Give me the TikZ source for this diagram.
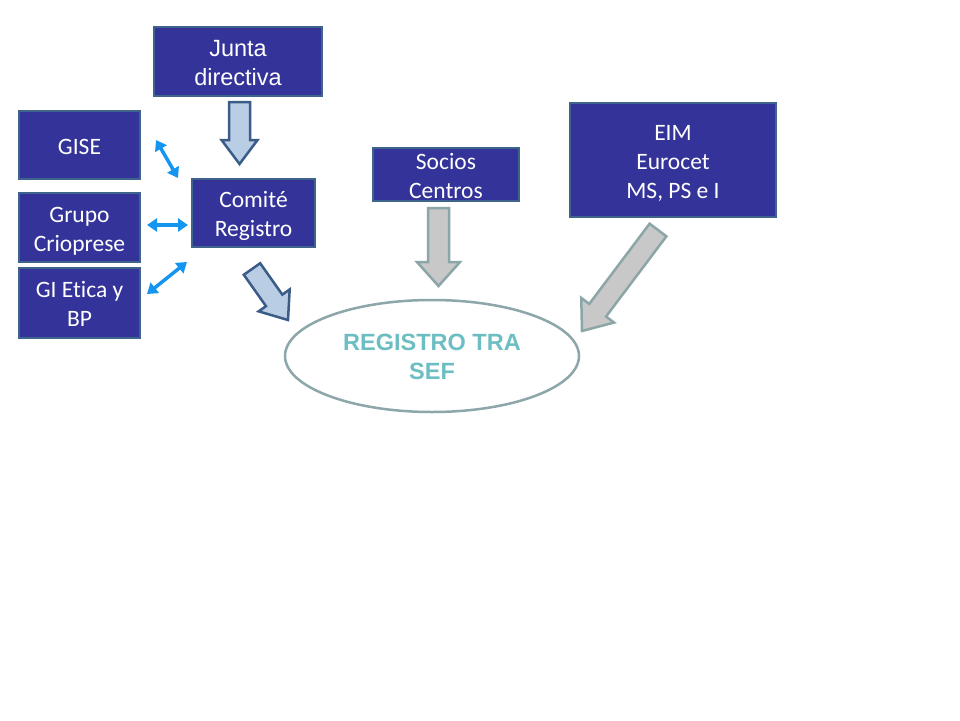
\documentclass[tikz,border=0pt]{standalone}
\usepackage{fontspec}
\setmainfont[Ligatures={NoCommon,NoRare,NoContextual}]{Carlito}
\newfontfamily\arialf{Liberation Sans}
\usetikzlibrary{shapes.geometric,calc,arrows.meta}
\definecolor{boxfill}{RGB}{51,51,153}
\definecolor{boxline}{RGB}{62,100,140}
\definecolor{bafill}{RGB}{185,205,229}
\definecolor{baline}{RGB}{58,92,134}
\definecolor{gafill}{RGB}{200,200,200}
\definecolor{galine}{RGB}{140,166,168}
\definecolor{ellline}{RGB}{140,166,170}
\definecolor{elltext}{RGB}{108,190,195}
\definecolor{dblue}{RGB}{20,150,240}
\newcommand\lst{\rule[-5.5pt]{0pt}{29pt}}
\newcommand\topst{\rule{0pt}{21pt}}
\newcommand\botst{\rule[-3pt]{0pt}{3pt}}
\tikzset{
  orgbox/.style={draw=boxline, line width=2.5pt, fill=boxfill, text=white,
    inner sep=0pt, align=center, font=\fontsize{23.5}{29}\selectfont},
  bluearrow/.style={draw=baline, line width=2.5pt, fill=bafill, line join=miter},
  grayarrow/.style={draw=galine, line width=2.5pt, fill=gafill, line join=miter},
  dbl/.style={draw=dblue, line width=3.5pt, {Triangle[width=13pt,length=10pt]}-{Triangle[width=13pt,length=10pt]}}
}
% block arrow: #1 start, #2 end, #3 half shaft, #4 half head, #5 head length, #6 style
\newcommand\blockarr[6]{%
  \path coordinate (ba-s) at (#1) coordinate (ba-e) at (#2)
        coordinate (ba-n) at ($(#2)!#5!(#1)$);
  \draw[#6] ($(ba-s)!#3!90:(ba-e)$) -- ($(ba-n)!#3!-90:(ba-s)$)
     -- ($(ba-n)!#4!-90:(ba-s)$) -- (ba-e) -- ($(ba-n)!#4!90:(ba-s)$)
     -- ($(ba-n)!#3!90:(ba-s)$) -- ($(ba-s)!#3!-90:(ba-e)$) -- cycle;
}
\begin{document}
\begin{tikzpicture}[x=1pt,y=-1pt]
\useasboundingbox (0,0) rectangle (960,720);
\fill[white] (0,0) rectangle (960,720);

\node[orgbox, minimum width=168pt, minimum height=69pt, font=\arialf\fontsize{23.5}{29}\selectfont] (junta) at (238,61.5) {\lst Junta\\\lst directiva};
\node[orgbox, minimum width=121pt, minimum height=68pt] (gise) at (79.5,145) {\lst GISE};
\node[orgbox, minimum width=121pt, minimum height=69pt] (grupo) at (79.5,227.5) {\lst Grupo\\\lst Criopres\kern0pt e};
\node[orgbox, minimum width=121pt, minimum height=70pt] (gi) at (79.5,303) {\lst GI Etica y\\\lst BP};
\node[orgbox, minimum width=123pt, minimum height=68pt] (comite) at (253.5,213) {\lst Comité\\\lst Registro};
\node[orgbox, minimum width=146pt, minimum height=53pt] (socios) at (446,174.5) {\topst Socios\\Centros\botst};
\node[orgbox, minimum width=206pt, minimum height=114pt] (eim) at (673,160) {\lst EIM\\\lst Eurocet\\\lst MS, PS e I};
\node[ellipse, draw=ellline, line width=2.5pt, fill=white, minimum width=294pt, minimum height=112pt,
      inner sep=0pt, align=center, text=elltext, font=\arialf\bfseries\fontsize{23.5}{29}\selectfont]
      (reg) at (432,356) {\lst REGISTRO TRA\\\lst SEF};

% block arrows
\coordinate (j1) at (239.5,102); \coordinate (j2) at (239.5,164);
\blockarr{j1}{j2}{10.5pt}{18pt}{24pt}{bluearrow}
\coordinate (c1) at (252,269); \coordinate (c2) at (288,320);
\blockarr{c1}{c2}{10pt}{19pt}{24pt}{bluearrow}
\coordinate (s1) at (438.5,208); \coordinate (s2) at (438.5,286);
\blockarr{s1}{s2}{10.5pt}{21.5pt}{24pt}{grayarrow}
\coordinate (e1) at (658,230); \coordinate (e2) at (582,331);
\blockarr{e1}{e2}{10.5pt}{20.5pt}{26pt}{grayarrow}

% double arrows
\coordinate (g1) at (156,140); \coordinate (g2) at (178,178);
\draw[dbl] (g1) -- (g2);
\coordinate (r1) at (147,225); \coordinate (r2) at (188,225);
\draw[dbl] (r1) -- (r2);
\coordinate (i1) at (147,294); \coordinate (i2) at (187,262);
\draw[dbl] (i1) -- (i2);
\end{tikzpicture}
\end{document}
